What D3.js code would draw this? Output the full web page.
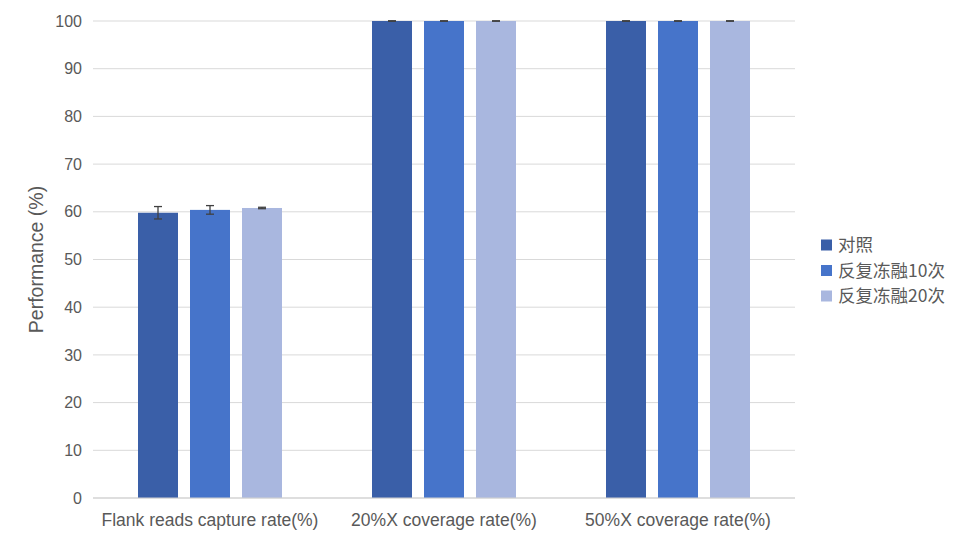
<!DOCTYPE html>
<html><head><meta charset="utf-8">
<script src="https://cdn.jsdelivr.net/npm/d3@7"></script>
<style>body{margin:0;background:#fff;} text{font-family:"Liberation Sans","Noto Sans CJK SC",Arial,sans-serif;}</style>
</head><body><svg id="c" width="960" height="541"></svg>
<script>
const categories = ["Flank reads capture rate(%)", "20%X coverage rate(%)", "50%X coverage rate(%)"];
const seriesNames = ["对照", "反复冻融10次", "反复冻融20次"];
const seriesValues = [
  [59.8, 100, 100],
  [60.4, 100, 100],
  [60.8, 100, 100]
];
const seriesErrors = [
  [1.3, 0.05, 0.05],
  [0.9, 0.05, 0.05],
  [0.15, 0.05, 0.05]
];
const yTicks = [0,10,20,30,40,50,60,70,80,90,100];
const colors = ["#3A5FA8", "#4674CA", "#A9B7DF"];

const svg = d3.select("#c");
const mLeft = 93, mRight = 795, mTop = 21, mBottom = 498;
const x0 = d3.scaleBand().domain(categories).range([mLeft, mRight]).padding(0);
const x1 = d3.scaleBand().domain(seriesNames).range([45, 189]).paddingInner(12/52).paddingOuter(0);
const y = d3.scaleLinear().domain([0,100]).range([mBottom, mTop]);

// gridlines
svg.append("g").selectAll("line").data(yTicks).join("line")
  .attr("x1", mLeft).attr("x2", mRight)
  .attr("y1", d=>y(d)).attr("y2", d=>y(d))
  .attr("stroke", "#d9d9d9").attr("stroke-width", 1);

// y tick labels
const yAxis = svg.append("g").attr("transform", `translate(${mLeft},0)`)
  .call(d3.axisLeft(y).tickValues(yTicks).tickSize(0).tickPadding(11));
yAxis.select(".domain").remove();
yAxis.selectAll("text").attr("font-size", 16).attr("fill", "#595959");

// bars
const data = [];
seriesNames.forEach((s, si) => categories.forEach((c, ci) => data.push({s, si, c, v: seriesValues[si][ci], e: seriesErrors[si][ci]})));
svg.append("g").selectAll("rect").data(data).join("rect")
  .attr("x", d => x0(d.c) + x1(d.s))
  .attr("width", x1.bandwidth())
  .attr("y", d => y(d.v))
  .attr("height", d => y(0) - y(d.v))
  .attr("fill", d => colors[d.si]);

// error bars
const eg = svg.append("g").attr("stroke", "#404040").attr("stroke-width", 1.3);
data.forEach(d => {
  const cx = x0(d.c) + x1(d.s) + x1.bandwidth()/2;
  eg.append("line").attr("x1", cx).attr("x2", cx).attr("y1", y(d.v - d.e)).attr("y2", y(d.v + d.e));
  [d.v - d.e, d.v + d.e].forEach(v => eg.append("line").attr("x1", cx-4).attr("x2", cx+4).attr("y1", y(v)).attr("y2", y(v)));
});

// x axis baseline
svg.append("line").attr("x1", mLeft).attr("x2", mRight).attr("y1", y(0)).attr("y2", y(0)).attr("stroke", "#d0d0d0");

// x labels
const xAxis = svg.append("g").attr("transform", `translate(0,${mBottom})`)
  .call(d3.axisBottom(x0).tickSize(0).tickPadding(16));
xAxis.select(".domain").remove();
xAxis.selectAll("text").attr("font-size", 17.5).attr("fill", "#595959");

// y title
svg.append("text").attr("transform", `translate(43,${(mTop+mBottom)/2}) rotate(-90)`)
  .attr("text-anchor", "middle").attr("font-size", 19.5).attr("fill", "#595959").text("Performance (%)");

// legend
const lg = svg.append("g").attr("transform", "translate(821,245)");
seriesNames.forEach((s, i) => {
  const g = lg.append("g").attr("transform", `translate(0,${i*25.5})`);
  g.append("rect").attr("x", 0).attr("y", -5.5).attr("width", 11).attr("height", 11).attr("fill", colors[i]);
  g.append("text").attr("x", 17).attr("y", 0).attr("dy", "0.35em").attr("font-size", 17.5).attr("fill", "#595959")
    .style("font-family", "'Noto Sans CJK SC',sans-serif").text(s);
});
</script></body></html>
